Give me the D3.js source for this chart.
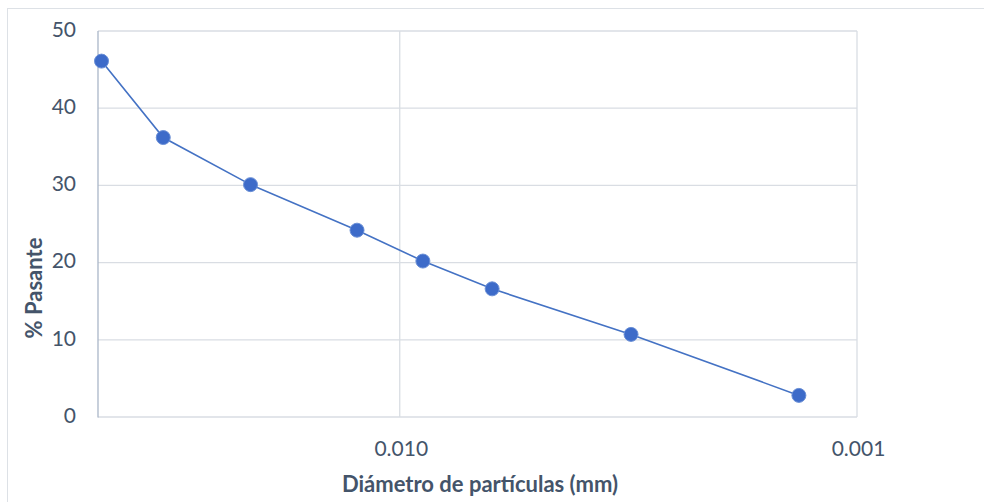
<!DOCTYPE html>
<html>
<head>
<meta charset="utf-8">
<script src="https://cdn.jsdelivr.net/npm/d3@7"></script>
<style>
  html, body { margin: 0; padding: 0; background: #fff; }
  svg { display: block; }
</style>
</head>
<body>
<svg id="chart" width="984" height="502"></svg>
<script>
// Particle-size distribution (hydrometer): diameter (mm) vs. percent passing
const diameters = [0.0449, 0.0329, 0.0212, 0.0124, 0.0089, 0.00628, 0.00312, 0.00134];
const passing   = [46.1, 36.2, 30.1, 24.2, 20.2, 16.6, 10.7, 2.8];
const yTicks    = [0, 10, 20, 30, 40, 50];
const xTicks    = [0.01, 0.001];
const xTickLabels = ["0.010", "0.001"];

const svg = d3.select("#chart");
const font = "Lato, 'Open Sans', sans-serif";
const textColor = "#44546a";
const gridColor = "#d9dde3";

const plot = { left: 98, top: 31, right: 857, bottom: 417 };

// outer chart frame
svg.append("rect")
  .attr("x", 7.5).attr("y", 8.5)
  .attr("width", 1000).attr("height", 600)
  .attr("fill", "#fff").attr("stroke", "#dde1e6").attr("stroke-width", 1);

// reversed log axis: coarse particles on the left, fine on the right
const x = d3.scaleLog().domain([0.0457, 0.001]).range([plot.left, plot.right]);
const y = d3.scaleLinear().domain([0, 50]).range([plot.bottom, plot.top]);

// horizontal gridlines
svg.append("g").selectAll("line").data(yTicks).join("line")
  .attr("x1", plot.left).attr("x2", plot.right)
  .attr("y1", d => y(d)).attr("y2", d => y(d))
  .attr("stroke", gridColor).attr("stroke-width", 1.3);

// vertical gridlines at decades
svg.append("g").selectAll("line").data(xTicks).join("line")
  .attr("x1", d => x(d)).attr("x2", d => x(d))
  .attr("y1", plot.top).attr("y2", plot.bottom)
  .attr("stroke", gridColor).attr("stroke-width", 1.3);

// value axis line
svg.append("line")
  .attr("x1", plot.left).attr("x2", plot.left)
  .attr("y1", plot.top).attr("y2", plot.bottom + 0.5)
  .attr("stroke", "#aab6c8").attr("stroke-width", 1.3);

// y tick labels
svg.append("g").selectAll("text").data(yTicks).join("text")
  .attr("x", 76).attr("y", d => y(d))
  .attr("dy", "0.28em")
  .attr("text-anchor", "end")
  .attr("font-family", font).attr("font-size", 21)
  .attr("fill", textColor)
  .text(d => d);

// x tick labels
svg.append("g").selectAll("text").data(xTicks).join("text")
  .attr("x", d => x(d) + 1.5).attr("y", 456)
  .attr("text-anchor", "middle")
  .attr("font-family", font).attr("font-size", 21)
  .attr("fill", textColor)
  .text((d, i) => xTickLabels[i]);

// axis titles
svg.append("text")
  .attr("x", 480).attr("y", 492)
  .attr("text-anchor", "middle")
  .attr("font-family", font).attr("font-size", 22).attr("font-weight", "bold")
  .attr("fill", textColor)
  .text("Diámetro de partículas (mm)");

svg.append("text")
  .attr("transform", "translate(42,288) rotate(-90)")
  .attr("text-anchor", "middle")
  .attr("font-family", font).attr("font-size", 22).attr("font-weight", "bold")
  .attr("fill", textColor)
  .text("% Pasante");

// curve
const pts = diameters.map((d, i) => [d, passing[i]]);
svg.append("path")
  .datum(pts)
  .attr("d", d3.line().x(d => x(d[0])).y(d => y(d[1])))
  .attr("fill", "none").attr("stroke", "#4472c4").attr("stroke-width", 1.6);

// markers
svg.append("g").selectAll("circle").data(pts).join("circle")
  .attr("cx", d => x(d[0])).attr("cy", d => y(d[1]))
  .attr("r", 7)
  .attr("fill", "#3d6bc9").attr("stroke", "#6a8fd6").attr("stroke-width", 1);
</script>
</body>
</html>
